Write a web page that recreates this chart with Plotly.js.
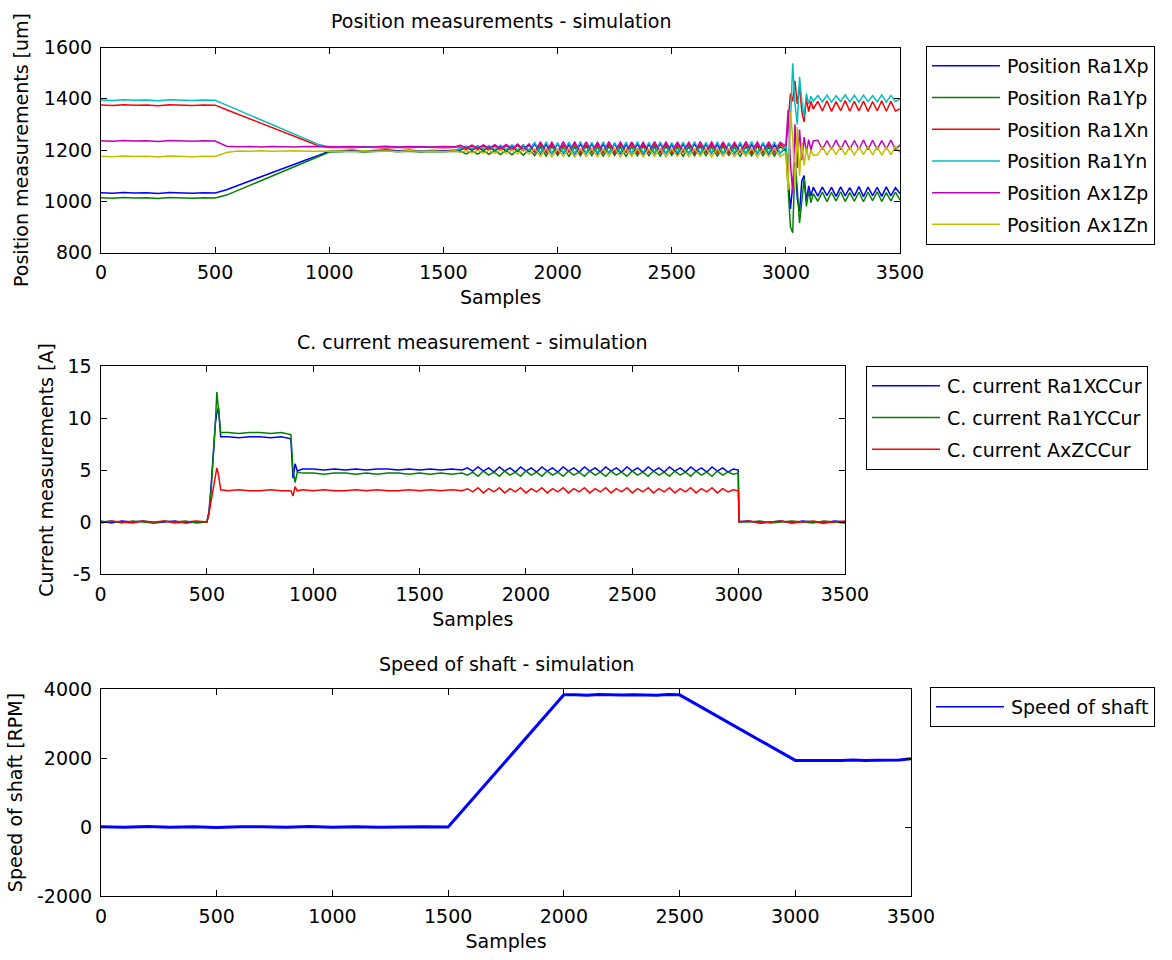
<!DOCTYPE html>
<html>
<head>
<meta charset="utf-8">
<script src="https://cdn.plot.ly/plotly-3.0.1.min.js"></script>
<style>
html,body{margin:0;padding:0;background:#fff;}
#chart{width:1172px;height:960px;}
</style>
</head>
<body>
<div id="chart"></div>
<script>
// ---------- Position measurements (top) ----------
const posX = [
  0,50,100,150,200,250,300,350,400,450,500,
  550,600,650,700,750,800,850,900,950,1000,
  1050,1100,1150,1200,1250,1300,1350,1400,1450,1500,1550,
  1575,1600,1625,1650,1675,1700,1725,1750,1775,1800,
  1825,1850,1875,1900,1925,1950,1975,2000,2025,2050,
  2075,2100,2125,2150,2175,2200,2225,2250,2275,2300,
  2325,2350,2375,2400,2425,2450,2475,2500,2525,2550,
  2575,2600,2625,2650,2675,2700,2725,2750,2775,2800,
  2825,2850,2875,2900,2925,2950,2975,3000,
  3010,3020,3030,3040,3050,3060,3070,3080,3090,3100,3110,3120,
  3140,3160,3180,3200,3220,3240,3260,3280,3300,3320,3340,3360,3380,3400,3420,3440,3460,3480,3500
];
const posRa1Xp = [
  1033,1031,1034,1032,1033,1030,1034,1032,1031,1033,1032,
  1045,1062,1078,1095,1112,1128,1145,1162,1178,1195,
  1197,1199,1196,1198,1200,1197,1199,1196,1198,1197,1200,
  1200,1210,1199,1212,1198,1213,1197,1214,1196,1215,
  1195,1216,1194,1224,1186,1222,1184,1225,1187,1221,
  1183,1224,1186,1223,1185,1222,1187,1225,1184,1221,
  1186,1224,1183,1222,1187,1225,1185,1221,1184,1223,
  1186,1224,1185,1222,1187,1221,1184,1225,1186,1223,
  1185,1222,1186,1224,1184,1221,1187,1210,
  1090,970,1060,1150,1010,960,1080,1100,1000,1060,1020,1055,
  1020,1055,1022,1054,1019,1056,1021,1053,1020,1057,1018,1055,1022,1054,1019,1056,1021,1053,1030
];
const posRa1Yp = [
  1014,1012,1015,1013,1014,1011,1015,1013,1012,1014,1013,
  1024,1043,1062,1081,1100,1119,1138,1157,1176,1192,
  1193,1195,1192,1194,1196,1193,1195,1192,1194,1193,1195,
  1195,1185,1197,1184,1198,1183,1199,1182,1200,1181,
  1201,1180,1202,1178,1212,1176,1214,1179,1211,1175,
  1213,1177,1215,1178,1212,1176,1214,1179,1211,1175,
  1213,1177,1215,1178,1212,1176,1214,1179,1211,1175,
  1213,1177,1215,1178,1212,1176,1214,1179,1211,1175,
  1213,1177,1215,1178,1212,1176,1214,1195,
  1050,900,877,1150,1050,915,1000,1090,980,1040,995,1030,
  1000,1036,998,1035,1001,1037,999,1034,1000,1036,998,1035,1002,1037,999,1034,1001,1036,1005
];
const posRa1Xn = [
  1376,1374,1377,1375,1376,1373,1377,1375,1374,1376,1375,
  1357,1340,1322,1305,1287,1270,1252,1235,1217,1210,
  1211,1209,1212,1210,1208,1211,1209,1212,1210,1209,1211,
  1212,1202,1214,1201,1215,1200,1216,1199,1217,1198,
  1218,1197,1219,1190,1222,1189,1223,1188,1221,1191,
  1224,1187,1220,1190,1222,1189,1223,1188,1221,1191,
  1224,1187,1220,1190,1222,1189,1223,1188,1221,1191,
  1224,1187,1220,1190,1222,1189,1223,1188,1221,1191,
  1224,1187,1220,1190,1222,1189,1223,1205,
  1300,1420,1390,1470,1380,1450,1350,1310,1400,1350,1390,1360,
  1390,1352,1392,1350,1389,1353,1393,1351,1390,1352,1391,1350,1389,1353,1392,1351,1390,1352,1360
];
const posRa1Yn = [
  1395,1393,1396,1394,1395,1392,1396,1394,1393,1395,1394,
  1375,1356,1337,1318,1299,1280,1261,1242,1223,1212,
  1213,1211,1214,1212,1210,1213,1211,1214,1212,1211,1213,
  1205,1215,1204,1217,1203,1218,1202,1219,1201,1220,
  1200,1221,1199,1230,1188,1232,1186,1229,1189,1231,
  1185,1233,1187,1230,1188,1232,1186,1229,1189,1231,
  1185,1233,1187,1230,1188,1232,1186,1229,1189,1231,
  1185,1233,1187,1230,1188,1232,1186,1229,1189,1231,
  1185,1233,1187,1230,1188,1232,1186,1215,
  1150,1300,1538,1380,1300,1486,1390,1330,1420,1380,1410,1390,
  1413,1388,1414,1387,1412,1389,1415,1388,1413,1387,1414,1389,1412,1388,1415,1387,1413,1389,1400
];
const posAx1Zp = [
  1236,1234,1237,1235,1236,1233,1237,1235,1234,1236,1235,
  1215,1213,1214,1212,1214,1213,1212,1214,1213,1212,
  1213,1214,1212,1213,1215,1212,1214,1213,1212,1214,1213,
  1218,1208,1219,1207,1220,1206,1221,1205,1222,1204,
  1223,1203,1224,1192,1232,1194,1230,1191,1233,1193,
  1231,1192,1232,1194,1230,1191,1233,1193,1231,1192,
  1232,1194,1230,1191,1233,1193,1231,1192,1232,1194,
  1230,1191,1233,1193,1231,1192,1232,1194,1230,1191,
  1233,1193,1231,1192,1232,1194,1230,1215,
  1356,1150,1032,1300,1130,1280,1160,1250,1190,1240,1200,1235,
  1238,1202,1237,1203,1239,1201,1238,1202,1237,1203,1239,1201,1238,1202,1237,1203,1239,1201,1220
];
const posAx1Zn = [
  1176,1174,1177,1175,1176,1173,1177,1175,1174,1176,1175,
  1190,1196,1195,1197,1195,1196,1197,1195,1196,1195,
  1196,1194,1197,1195,1196,1194,1197,1195,1196,1194,1197,
  1190,1198,1189,1199,1188,1200,1187,1201,1186,1202,
  1185,1203,1184,1205,1175,1206,1174,1204,1176,1207,
  1173,1205,1175,1206,1174,1204,1176,1207,1173,1205,
  1175,1206,1174,1204,1176,1207,1173,1205,1175,1206,
  1174,1204,1176,1207,1173,1205,1175,1206,1174,1204,
  1176,1207,1173,1205,1175,1206,1174,1190,
  1044,1348,1250,1050,1290,1100,1230,1140,1210,1160,1200,1180,
  1181,1213,1180,1212,1182,1214,1181,1213,1180,1212,1182,1214,1181,1213,1180,1212,1182,1214,1190
];

// ---------- Control current (middle) ----------
const curX = [
  0,50,100,150,200,250,300,350,400,450,500,
  510,520,530,540,547,555,565,
  600,650,700,750,800,850,
  895,905,915,925,950,
  1000,1050,1100,1150,1200,1250,1300,1350,1400,1450,1500,1550,1600,1650,1700,
  1725,1750,1775,1800,1825,1850,1875,1900,1925,1950,
  1975,2000,2025,2050,2075,2100,2125,2150,2175,2200,
  2225,2250,2275,2300,2325,2350,2375,2400,2425,2450,
  2475,2500,2525,2550,2575,2600,2625,2650,2675,2700,
  2725,2750,2775,2800,2825,2850,2875,2900,2925,2950,
  2975,
  2998,3002,
  3050,3100,3150,3200,3250,3300,3350,3400,3450,3500
];
const curRa1X = [
  0.1,-0.1,0.1,0,0.1,-0.1,0,0.1,-0.1,0,0,
  1.0,3.5,6.5,9.5,10.5,11.0,8.2,
  8.2,8.1,8.2,8.2,8.1,8.2,
  8.0,4.2,5.6,4.9,5.1,
  5.1,5.0,5.1,5.0,5.1,5.0,5.1,5.1,5.0,5.1,5.0,5.1,5.0,5.1,5.0,
  5.2,4.9,5.3,4.9,5.2,4.8,5.3,4.9,5.2,4.8,
  5.3,4.9,5.2,4.8,5.3,4.9,5.2,4.8,5.3,4.9,
  5.2,4.8,5.3,4.9,5.2,4.8,5.3,4.9,5.2,4.8,
  5.3,4.9,5.2,4.8,5.3,4.9,5.2,4.8,5.3,4.9,
  5.2,4.8,5.3,4.9,5.2,4.8,5.3,4.9,5.2,4.8,
  5.1,
  5.0,0.05,
  0.1,-0.1,0,0.1,-0.1,0.1,0,-0.1,0.1,0
];
const curRa1Y = [
  0,0.1,-0.1,0.1,0,-0.1,0.1,0,0.1,-0.1,0,
  0.8,3.0,6.0,9.5,12.5,10.5,8.6,
  8.6,8.5,8.6,8.6,8.5,8.6,
  8.4,5.0,3.8,4.8,4.7,
  4.7,4.6,4.7,4.7,4.6,4.7,4.6,4.7,4.7,4.6,4.7,4.6,4.7,4.6,4.7,
  4.5,4.8,4.4,4.9,4.5,4.8,4.4,4.9,4.5,4.8,
  4.4,4.9,4.5,4.8,4.4,4.9,4.5,4.8,4.4,4.9,
  4.5,4.8,4.4,4.9,4.5,4.8,4.4,4.9,4.5,4.8,
  4.4,4.9,4.5,4.8,4.4,4.9,4.5,4.8,4.4,4.9,
  4.5,4.8,4.4,4.9,4.5,4.8,4.4,4.9,4.5,4.8,
  4.6,
  4.7,0.0,
  0,0.1,-0.1,0,0.1,0,-0.1,0.1,0,-0.1
];
const curAxZ = [
  -0.1,0.1,0,-0.1,0.1,0,0.1,-0.1,0,0.1,0,
  0.8,2.0,3.2,4.2,5.2,4.5,3.1,
  3.0,3.1,3.0,3.0,3.1,3.0,
  3.0,2.5,3.4,3.0,3.1,
  3.0,3.1,3.0,3.0,3.1,3.0,3.1,3.0,3.0,3.1,3.0,3.1,3.0,3.1,3.0,
  3.2,2.9,3.3,2.8,3.2,2.9,3.3,2.8,3.2,2.9,
  3.3,2.8,3.2,2.9,3.3,2.8,3.2,2.9,3.3,2.8,
  3.2,2.9,3.3,2.8,3.2,2.9,3.3,2.8,3.2,2.9,
  3.3,2.8,3.2,2.9,3.3,2.8,3.2,2.9,3.3,2.8,
  3.2,2.9,3.3,2.8,3.2,2.9,3.3,2.8,3.2,2.9,
  3.1,
  3.0,0.0,
  0.1,-0.1,0,0.1,-0.1,0,0.1,-0.1,0,0.1
];

// ---------- Speed of shaft (bottom) ----------
const speedX = [
  0,100,200,300,400,500,600,700,800,900,1000,1100,1200,1300,1400,1500,
  1550,1600,1650,1700,1750,1800,1850,1900,1950,2000,
  2050,2100,2150,2200,2250,2300,2350,2400,2450,2500,
  2550,2600,2650,2700,2750,2800,2850,2900,2950,3000,
  3050,3100,3150,3200,3250,3300,3350,3400,3450,3500
];
const speedRPM = [
  10,-10,15,-5,10,-15,5,10,-10,15,-5,10,-10,5,10,0,
  380,770,1150,1530,1910,2300,2680,3060,3450,3830,
  3830,3820,3840,3830,3825,3835,3830,3820,3840,3830,
  3640,3450,3260,3070,2880,2690,2500,2310,2120,1930,
  1930,1925,1935,1930,1940,1925,1935,1930,1940,1980
];

// ---------- Tick labels ----------
const xTickVals = [0,500,1000,1500,2000,2500,3000,3500];
const xTickText = ['0','500','1000','1500','2000','2500','3000','3500'];
const posTickVals = [800,1000,1200,1400,1600];
const posTickText = ['800','1000','1200','1400','1600'];
const curTickVals = [-5,0,5,10,15];
const curTickText = ['-5','0','5','10','15'];
const spdTickVals = [-2000,0,2000,4000];
const spdTickText = ['-2000','0','2000','4000'];

// ---------- Styling ----------
const W = 1172, H = 960;
const FONT = {family: 'DejaVu Sans, sans-serif', size: 19, color: '#000'};
const C = {blue:'#0000ff', green:'#008000', red:'#ff0000', cyan:'#00bfbf', magenta:'#bf00bf', yellow:'#bfbf00'};

function xd(l, r) { return [l / W, r / W]; }
function yd(t, b) { return [1 - b / H, 1 - t / H]; }

function axis(extra) {
  return Object.assign({
    showline: true, linecolor: '#000', linewidth: 1, mirror: 'ticks',
    ticks: 'inside', ticklen: 6, tickcolor: '#000', tickwidth: 1,
    showgrid: false, zeroline: false, automargin: false,
    tickfont: FONT, fixedrange: true
  }, extra);
}

function tr(x, y, name, color, xa, ya, leg, width) {
  return {x: x, y: y, name: name, type: 'scatter', mode: 'lines',
          line: {color: color, width: width || 1.5},
          xaxis: xa, yaxis: ya, legend: leg, legendgroup: name, hoverinfo: 'skip'};
}

const data = [
  tr(posX, posRa1Xp, 'Position Ra1Xp', C.blue, 'x', 'y', 'legend'),
  tr(posX, posRa1Yp, 'Position Ra1Yp', C.green, 'x', 'y', 'legend'),
  tr(posX, posRa1Xn, 'Position Ra1Xn', C.red, 'x', 'y', 'legend'),
  tr(posX, posRa1Yn, 'Position Ra1Yn', C.cyan, 'x', 'y', 'legend'),
  tr(posX, posAx1Zp, 'Position Ax1Zp', C.magenta, 'x', 'y', 'legend'),
  tr(posX, posAx1Zn, 'Position Ax1Zn', C.yellow, 'x', 'y', 'legend'),
  tr(curX, curRa1X, 'C. current Ra1XCCur', C.blue, 'x2', 'y2', 'legend2'),
  tr(curX, curRa1Y, 'C. current Ra1YCCur', C.green, 'x2', 'y2', 'legend2'),
  tr(curX, curAxZ, 'C. current AxZCCur', C.red, 'x2', 'y2', 'legend2'),
  tr(speedX, speedRPM, 'Speed of shaft', C.blue, 'x3', 'y3', 'legend3', 3)
];

const legBase = {
  xanchor: 'left', yanchor: 'top', bordercolor: '#000', borderwidth: 1,
  bgcolor: '#fff', font: FONT, itemwidth: 70, tracegroupgap: 4,
  traceorder: 'grouped', itemclick: false, itemdoubleclick: false
};

const layout = {
  width: W, height: H,
  margin: {l: 0, r: 0, t: 0, b: 0},
  paper_bgcolor: '#fff', plot_bgcolor: '#fff',
  font: FONT,
  showlegend: true,
  xaxis: axis({domain: xd(101, 900), anchor: 'y', range: [0, 3500], tickvals: xTickVals, ticktext: xTickText,
               ticklabelstandoff: 3, title: {text: 'Samples', font: FONT, standoff: 8}}),
  yaxis: axis({domain: yd(47.5, 252.5), anchor: 'x', range: [800, 1600], tickvals: posTickVals, ticktext: posTickText,
               ticklabelstandoff: 4, title: {text: 'Position measurements [um]', font: FONT, standoff: 10}}),
  xaxis2: axis({domain: xd(100.5, 845), anchor: 'y2', range: [0, 3500], tickvals: xTickVals, ticktext: xTickText,
               ticklabelstandoff: 3, title: {text: 'Samples', font: FONT, standoff: 8}}),
  yaxis2: axis({domain: yd(366, 574), anchor: 'x2', range: [-5, 15], tickvals: curTickVals, ticktext: curTickText,
               ticklabelstandoff: 4, title: {text: 'Current measurements [A]', font: FONT, standoff: 8}}),
  xaxis3: axis({domain: xd(101, 911), anchor: 'y3', range: [0, 3500], tickvals: xTickVals, ticktext: xTickText,
               ticklabelstandoff: 3, title: {text: 'Samples', font: FONT, standoff: 8}}),
  yaxis3: axis({domain: yd(689, 896), anchor: 'x3', range: [-2000, 4000], tickvals: spdTickVals, ticktext: spdTickText,
               ticklabelstandoff: 4, title: {text: 'Speed of shaft [RPM]', font: FONT, standoff: 9}}),
  legend: Object.assign({}, legBase, {x: 926 / W, y: 1 - 46 / H}),
  legend2: Object.assign({}, legBase, {x: 866 / W, y: 1 - 366 / H}),
  legend3: Object.assign({}, legBase, {x: 930 / W, y: 1 - 687 / H}),
  annotations: [
    {text: 'Position measurements - simulation', xref: 'paper', yref: 'paper', x: 500.5 / W, y: 1 - 21 / H,
     xanchor: 'center', yanchor: 'middle', showarrow: false, font: FONT},
    {text: 'C. current measurement - simulation', xref: 'paper', yref: 'paper', x: 472.5 / W, y: 1 - 342 / H,
     xanchor: 'center', yanchor: 'middle', showarrow: false, font: FONT},
    {text: 'Speed of shaft - simulation', xref: 'paper', yref: 'paper', x: 506 / W, y: 1 - 664 / H,
     xanchor: 'center', yanchor: 'middle', showarrow: false, font: FONT}
  ]
};

Plotly.newPlot('chart', data, layout, {displayModeBar: false, staticPlot: true}).then(function () {
  document.querySelectorAll('.infolayer path.js-line').forEach(function (p) {
    p.setAttribute('d', 'M5,0h68');
    p.style.strokeWidth = '1.5px';
  });
});
</script>
</body>
</html>
